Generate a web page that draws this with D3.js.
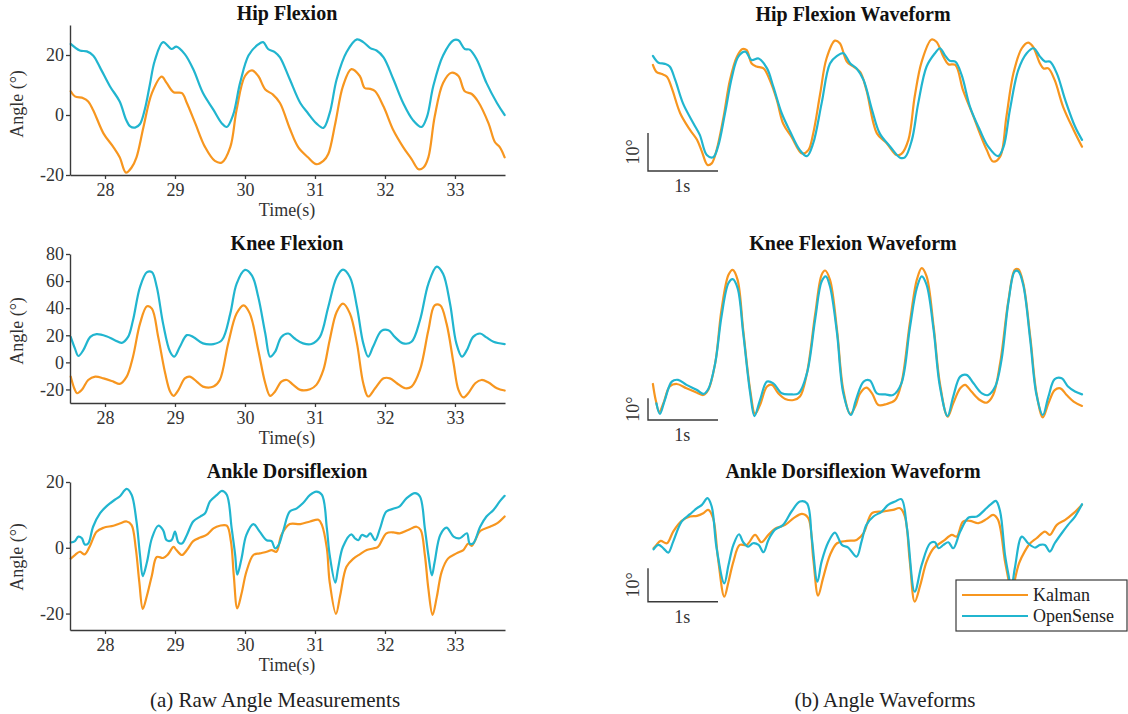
<!DOCTYPE html>
<html>
<head>
<meta charset="utf-8">
<script src="https://cdn.jsdelivr.net/npm/d3@7"></script>
<style>
  body { margin: 0; background: #fff; }
  text { font-family: "Liberation Serif", "Times New Roman", serif; }
</style>
</head>
<body>
<svg id="fig" width="1128" height="714"></svg>
<script>
// ---------- data: raw joint angles [time (s), angle (deg)] ----------
const timeTicks = [28, 29, 30, 31, 32, 33];
const hipTicks = [-20, 0, 20];
const kneeTicks = [-20, 0, 20, 40, 60, 80];
const ankleTicks = [-20, 0, 20];

const hipKalman = [[27.51,7.9],[27.57,6.2],[27.69,5.6],[27.76,4.5],[27.83,1.7],[27.98,-6.2],[28.12,-10.7],[28.21,-14.1],[28.30,-19.2],[28.38,-17.5],[28.45,-14.1],[28.55,-4],[28.67,7.3],[28.81,12.8],[28.88,10.7],[28.98,7.6],[29.10,7.3],[29.17,4],[29.29,-2.8],[29.43,-10.7],[29.57,-15.3],[29.67,-15.8],[29.79,-10.7],[29.88,1.7],[30.00,13],[30.10,14.9],[30.19,13],[30.29,8.5],[30.40,6.8],[30.50,4],[30.64,-4.5],[30.76,-10.7],[30.90,-14.1],[31.02,-16.4],[31.12,-15.3],[31.19,-13],[31.29,-2.8],[31.40,9.6],[31.52,15.3],[31.64,13],[31.71,9],[31.79,8.7],[31.86,7.9],[31.98,2.8],[32.12,-5.1],[32.26,-10.7],[32.38,-14.7],[32.48,-18.1],[32.55,-17.5],[32.62,-14.1],[32.71,-0.6],[32.83,10.7],[32.95,14.1],[33.05,13],[33.14,7.9],[33.24,7],[33.33,4.5],[33.48,-2.8],[33.57,-9],[33.64,-10.7],[33.71,-14.1]];
const hipOpenSense = [[27.51,23.7],[27.64,21.5],[27.74,21.2],[27.83,19.8],[27.93,15.8],[28.07,9.6],[28.21,4.5],[28.30,-1.5],[28.36,-3.8],[28.43,-4.2],[28.50,-3],[28.57,2],[28.64,10],[28.71,18],[28.83,24.3],[28.95,22],[29.02,22.8],[29.14,20.3],[29.26,15.3],[29.40,7.3],[29.55,1.7],[29.67,-2.8],[29.74,-4],[29.83,0],[29.93,10.7],[30.05,19.8],[30.17,23.2],[30.26,24.3],[30.33,22],[30.43,20.9],[30.50,19.2],[30.64,11.9],[30.79,4],[30.90,0.6],[31.02,-2.8],[31.12,-4.3],[31.21,0.6],[31.31,11.9],[31.45,20.9],[31.60,25.2],[31.69,24.3],[31.79,22.3],[31.88,21.5],[31.98,19.2],[32.12,11.9],[32.26,4],[32.40,-1.7],[32.52,-4],[32.60,-0.6],[32.69,9.6],[32.83,19.8],[32.98,24.9],[33.05,24.9],[33.14,22],[33.21,21.8],[33.31,18.6],[33.45,10.7],[33.60,4],[33.71,0]];

const kneeKalman = [[27.51,-10.5],[27.56,-19.1],[27.60,-22.8],[27.67,-20.3],[27.76,-13],[27.86,-10.5],[27.98,-11.8],[28.12,-14.2],[28.21,-15.9],[28.31,-10.5],[28.40,4.2],[28.50,28.6],[28.60,41.4],[28.67,39.7],[28.76,18.8],[28.86,-8.1],[28.93,-21.5],[28.98,-24.7],[29.05,-20.3],[29.14,-11.8],[29.21,-10.5],[29.31,-14.2],[29.40,-17.9],[29.55,-17.9],[29.64,-13],[29.76,14],[29.88,36],[29.98,42.1],[30.07,36],[30.19,9],[30.29,-15.4],[30.36,-24.7],[30.43,-21.5],[30.52,-14.2],[30.60,-13],[30.69,-16.6],[30.79,-20.3],[30.93,-19.8],[31.02,-16.6],[31.12,-5.6],[31.21,16.4],[31.31,37.2],[31.40,43.3],[31.50,36],[31.60,14],[31.69,-15.4],[31.76,-25.2],[31.86,-19.1],[31.98,-11.8],[32.07,-11.8],[32.17,-15.4],[32.29,-19.1],[32.38,-17.9],[32.50,-5.6],[32.62,23.7],[32.71,42.1],[32.79,42.1],[32.88,28.6],[32.98,-0.7],[33.05,-20.3],[33.12,-25.9],[33.19,-22.8],[33.29,-15.4],[33.38,-13],[33.48,-14.9],[33.60,-19.1],[33.71,-20.8]];
const kneeOpenSense = [[27.51,18.8],[27.57,10.3],[27.62,4.7],[27.69,9],[27.79,18.8],[27.88,20.8],[28.02,19.3],[28.14,16.4],[28.24,14.4],[28.33,18.8],[28.40,31.1],[28.50,55.6],[28.60,66.6],[28.67,66.6],[28.74,55.6],[28.83,28.6],[28.93,7.8],[28.99,4.2],[29.07,11.5],[29.17,20.1],[29.26,18.8],[29.40,14],[29.55,13.5],[29.67,16.4],[29.79,36],[29.88,58],[30.00,68.3],[30.10,64.1],[30.19,48.2],[30.29,21.3],[30.36,4.2],[30.43,7.8],[30.52,18.8],[30.62,21.3],[30.71,17.6],[30.83,14],[30.95,13.5],[31.07,18.8],[31.19,40.9],[31.31,62.9],[31.40,68.5],[31.50,62.9],[31.60,40.9],[31.69,14],[31.76,4.2],[31.83,11.5],[31.95,23.3],[32.05,23.7],[32.14,18.8],[32.26,14],[32.38,15.2],[32.50,31.1],[32.62,58],[32.74,70.7],[32.83,65.4],[32.93,43.3],[33.02,14],[33.10,4.2],[33.17,9],[33.26,18.8],[33.36,21.3],[33.45,18.4],[33.55,15.2],[33.71,13.5]];

const ankleKalman = [[27.51,-3.3],[27.57,-2.2],[27.64,-1.2],[27.71,-2],[27.79,0.8],[27.88,4.9],[27.98,6.1],[28.12,6.7],[28.21,7.4],[28.31,8],[28.38,6.9],[28.44,-0.2],[28.49,-10.4],[28.54,-18.6],[28.60,-14.5],[28.67,-8.4],[28.74,-2.8],[28.83,-3.1],[28.90,-2],[28.98,0.3],[29.02,-0.7],[29.10,-2.2],[29.17,-0.7],[29.26,2],[29.36,3.1],[29.45,3.9],[29.55,5.9],[29.64,6.7],[29.74,6.7],[29.80,1.8],[29.84,-8.4],[29.89,-18.4],[29.95,-14],[30.02,-7.3],[30.12,-2.2],[30.21,-1.7],[30.31,-1.2],[30.38,-0.7],[30.45,-1.2],[30.52,3.9],[30.64,7.2],[30.79,7.2],[30.93,8],[31.05,8.5],[31.10,6.9],[31.17,-0.2],[31.21,-10.4],[31.30,-20.1],[31.36,-14.5],[31.45,-5.8],[31.55,-3.3],[31.64,-2],[31.74,-0.7],[31.83,-0.2],[31.90,0.3],[32.02,4.4],[32.12,4.7],[32.21,4.4],[32.33,5.4],[32.45,6.4],[32.51,5.4],[32.57,-2.2],[32.62,-12.4],[32.68,-20.4],[32.74,-15],[32.81,-7.3],[32.90,-3.3],[33.02,-1.7],[33.12,-0.7],[33.19,1.3],[33.24,0.6],[33.29,2.3],[33.36,5.1],[33.50,6.4],[33.60,7.4],[33.71,9.5]];
const ankleOpenSense = [[27.51,1.6],[27.57,2],[27.62,3.4],[27.67,2.9],[27.71,1],[27.76,1.3],[27.83,6.4],[27.93,10.5],[28.02,12.6],[28.14,14.6],[28.21,15.6],[28.31,17.9],[28.38,16.1],[28.45,8],[28.50,-2.2],[28.54,-8.6],[28.60,-4.3],[28.67,2.9],[28.76,6.7],[28.83,5.4],[28.88,2.3],[28.95,2.3],[29.00,4.9],[29.05,1.6],[29.10,1.3],[29.17,3.9],[29.26,8],[29.36,9.5],[29.43,10.5],[29.50,14.1],[29.60,16.1],[29.67,17.3],[29.74,16.1],[29.81,5.9],[29.86,-2.2],[29.89,-8.2],[29.95,-3.3],[30.02,3.9],[30.12,7.2],[30.21,4.9],[30.31,2.3],[30.38,2],[30.43,-0.2],[30.48,0.8],[30.55,5.4],[30.64,11],[30.74,12],[30.83,13.6],[30.93,16.1],[31.02,17.1],[31.10,16.1],[31.17,5.9],[31.21,-2.2],[31.29,-10.6],[31.33,-6.3],[31.40,0.3],[31.52,4.1],[31.57,2.9],[31.62,2.3],[31.67,3.9],[31.74,3.4],[31.79,4.4],[31.86,2.3],[31.93,5.9],[32.02,11],[32.14,12],[32.21,12.6],[32.31,15.1],[32.43,16.6],[32.50,15.6],[32.57,5.9],[32.62,-2.2],[32.67,-8.4],[32.71,-4.3],[32.79,3.9],[32.88,6.1],[32.98,3.4],[33.07,2.9],[33.17,4.4],[33.21,1.3],[33.26,1.3],[33.36,6.4],[33.45,9.5],[33.55,11.5],[33.64,14.1],[33.71,15.8]];

// ---------- data: aligned waveforms [time (s), relative angle (deg)] ----------
const hipWaveKalman = [[0.07,27.9],[0.12,26.1],[0.20,25.5],[0.27,24.8],[0.34,21.8],[0.46,15.2],[0.60,10.8],[0.70,8.2],[0.77,5.1],[0.85,1.6],[0.91,2],[0.98,5.5],[1.08,14.3],[1.17,23.9],[1.27,30.1],[1.35,32.1],[1.41,31.8],[1.48,28.3],[1.55,27.5],[1.65,27],[1.74,23.9],[1.84,18.7],[1.93,12.5],[2.05,9],[2.20,4.6],[2.29,5.5],[2.36,9.9],[2.46,20.4],[2.55,29.6],[2.67,34.3],[2.74,33.6],[2.84,28.8],[2.93,27.5],[3.03,26.1],[3.12,21.3],[3.27,9.9],[3.41,7.3],[3.55,4.2],[3.62,4.5],[3.72,8.2],[3.81,19.6],[3.91,28.8],[4.05,34.6],[4.12,34],[4.22,30.1],[4.29,28.1],[4.39,27.9],[4.50,21.3],[4.65,14.3],[4.74,9.9],[4.84,5.5],[4.93,2.5],[5.03,3.8],[5.12,14.3],[5.22,25.7],[5.34,32.3],[5.43,33.8],[5.50,32.7],[5.60,28.3],[5.65,27],[5.72,27],[5.81,23.9],[5.93,16.9],[6.08,10.8],[6.20,6.4]];
const hipWaveOpenSense = [[0.07,30.3],[0.15,28.5],[0.24,28.2],[0.31,27.5],[0.39,23.9],[0.50,17.8],[0.65,12.5],[0.74,9.5],[0.84,4.2],[0.93,3.6],[1.00,6.4],[1.10,15.2],[1.20,24.8],[1.29,30.1],[1.39,31.4],[1.48,29.2],[1.58,29.6],[1.70,27],[1.79,22.2],[1.91,15.2],[2.03,10.4],[2.17,5.5],[2.27,3.9],[2.36,7.3],[2.48,17.8],[2.60,28.3],[2.70,30.3],[2.79,31],[2.89,28.3],[2.98,27],[3.08,23.9],[3.20,16.1],[3.31,9.9],[3.46,6.4],[3.60,3.5],[3.67,3.6],[3.77,8.2],[3.86,17.8],[3.98,27.5],[4.10,31],[4.17,32.3],[4.24,30.5],[4.31,29],[4.39,28.8],[4.48,25.3],[4.60,16.9],[4.74,10.8],[4.86,6.4],[5.00,3.9],[5.08,6.4],[5.17,16.1],[5.29,26.6],[5.41,31],[5.51,32.3],[5.60,30.1],[5.67,28.8],[5.74,28.8],[5.84,25.7],[5.96,18.7],[6.10,11.7],[6.20,8.2]];

const kneeWaveKalman = [[0.07,16.6],[0.11,9.2],[0.16,3.8],[0.22,7.7],[0.31,15.4],[0.41,16.6],[0.55,14.6],[0.70,12.6],[0.79,11.5],[0.86,13.8],[0.96,26.2],[1.05,50.8],[1.15,66.9],[1.21,69.2],[1.28,64.6],[1.36,41.5],[1.46,13.8],[1.53,2.8],[1.60,6.9],[1.70,15.4],[1.77,16.2],[1.86,12.3],[1.96,9.7],[2.08,9.2],[2.17,10.8],[2.27,21.5],[2.39,49.2],[2.48,66.9],[2.53,68.9],[2.60,64.6],[2.70,41.5],[2.79,13.8],[2.89,2.8],[2.96,6.2],[3.03,12.3],[3.12,14.9],[3.20,12.3],[3.29,6.9],[3.41,7.4],[3.53,9.2],[3.62,16.9],[3.74,44.6],[3.84,64.6],[3.91,70],[3.98,66.2],[4.08,43.1],[4.17,16.9],[4.28,1.5],[4.36,7.7],[4.46,14.6],[4.53,16.2],[4.62,13.1],[4.74,9.2],[4.84,8],[4.93,11.5],[5.03,26.2],[5.15,55.4],[5.24,69.2],[5.29,69.5],[5.36,63.1],[5.46,38.5],[5.55,12.3],[5.64,1.2],[5.72,7.7],[5.81,13.8],[5.89,14.6],[5.98,11.5],[6.08,8.5],[6.20,6.5]];
const kneeWaveOpenSense = [[0.12,7.7],[0.17,2.8],[0.24,9.2],[0.34,17.7],[0.43,18.5],[0.55,16.2],[0.70,13.8],[0.79,12],[0.86,14.2],[0.96,26.2],[1.05,47.7],[1.15,63.1],[1.21,64.9],[1.28,60.8],[1.36,40],[1.46,12.3],[1.52,1.8],[1.60,9.2],[1.70,17.7],[1.79,16.9],[1.91,12.3],[2.03,11.8],[2.15,12.3],[2.27,21.5],[2.39,46.9],[2.48,63.8],[2.54,66.2],[2.60,61.5],[2.70,40],[2.79,12.3],[2.90,2.3],[2.97,9.2],[3.08,17.7],[3.17,18.2],[3.27,12.3],[3.39,11.8],[3.50,11.5],[3.62,16.9],[3.74,42.3],[3.84,60.8],[3.91,66.2],[3.98,62.3],[4.08,41.5],[4.17,15.4],[4.28,1.8],[4.36,10.8],[4.46,20],[4.55,20.8],[4.65,16.9],[4.77,12.3],[4.86,11.5],[4.96,15.4],[5.05,27.7],[5.15,54.6],[5.24,68.5],[5.29,68.5],[5.36,62.3],[5.46,36.9],[5.55,11.5],[5.64,2.3],[5.72,10.8],[5.81,18.8],[5.91,19.2],[6.00,15.4],[6.10,13.1],[6.20,11.8]];

const ankleWaveKalman = [[0.08,16],[0.12,17],[0.18,18.2],[0.27,17.5],[0.36,21],[0.48,24.2],[0.60,25.5],[0.70,25.7],[0.79,26.5],[0.86,27.5],[0.93,25],[1.00,13],[1.09,1.5],[1.15,6],[1.22,12],[1.31,17],[1.41,17],[1.53,20],[1.62,17.8],[1.72,20],[1.81,21.8],[1.96,23],[2.08,25],[2.20,26.3],[2.29,25],[2.36,13],[2.43,1.8],[2.50,7],[2.60,14],[2.70,17.5],[2.84,18.2],[2.98,18.5],[3.08,20.5],[3.20,26.5],[3.36,27],[3.50,27.5],[3.60,28],[3.67,25.5],[3.74,12],[3.81,0],[3.89,5],[3.98,12],[4.08,16],[4.22,18.2],[4.34,20],[4.41,19.5],[4.50,24],[4.60,24.2],[4.72,23.5],[4.84,24.8],[4.93,26],[5.00,24.5],[5.10,12],[5.15,6.5],[5.19,1],[5.24,6.5],[5.30,11.5],[5.38,15],[5.46,17.5],[5.55,19],[5.67,21],[5.74,20],[5.84,23],[5.96,24.5],[6.08,26.5],[6.20,29]];
const ankleWaveOpenSense = [[0.08,15.7],[0.15,17],[0.22,16],[0.29,14.7],[0.36,18],[0.48,24],[0.60,26.2],[0.70,28],[0.77,29],[0.85,31],[0.91,28.5],[0.98,16],[1.09,5.5],[1.15,11],[1.22,17],[1.30,20.2],[1.36,17.8],[1.43,16.5],[1.50,17.5],[1.58,17],[1.65,14.8],[1.72,18.5],[1.81,21.5],[1.93,23],[2.05,27],[2.17,30],[2.27,29.5],[2.34,19],[2.42,6],[2.48,12],[2.58,18],[2.67,20.7],[2.77,17],[2.86,16.2],[2.98,13.5],[3.05,18],[3.12,23],[3.22,25.5],[3.34,27],[3.43,29],[3.53,30],[3.62,30.7],[3.70,22],[3.81,3],[3.91,11],[4.03,17.5],[4.10,17.8],[4.15,16],[4.22,17],[4.29,17.8],[4.36,16],[4.46,21],[4.58,25.2],[4.70,25.5],[4.81,27.5],[4.90,29.2],[4.97,30.2],[5.03,27],[5.10,14],[5.15,8],[5.19,4],[5.24,10],[5.34,19.5],[5.43,17.5],[5.53,16.2],[5.60,17],[5.67,17],[5.74,15],[5.81,17.5],[5.91,20.5],[6.00,23],[6.10,25.5],[6.20,29.2]];

const seriesNames = ["Kalman", "OpenSense"];
const seriesColor = { Kalman: "#f7961f", OpenSense: "#21b5cf" };

// ---------- layout ----------
const svg = d3.select("#fig");
const AXIS = "#3a3a3a";
const LW = 2.2;
const FONT = "'Liberation Serif', 'Times New Roman', serif";

const rawPanels = [
  { title: "Hip Flexion", kal: hipKalman, os: hipOpenSense, ticks: hipTicks, domain: [-20, 30], top: 25, bottom: 175, titleY: 20, labelY: 104 },
  { title: "Knee Flexion", kal: kneeKalman, os: kneeOpenSense, ticks: kneeTicks, domain: [-30, 80], top: 254, bottom: 403, titleY: 250, labelY: 331 },
  { title: "Ankle Dorsiflexion", kal: ankleKalman, os: ankleOpenSense, ticks: ankleTicks, domain: [-25, 20], top: 482, bottom: 630, titleY: 478, labelY: 557 }
];

const wavePanels = [
  { title: "Hip Flexion Waveform", kal: hipWaveKalman, os: hipWaveOpenSense, base: 171, pxPerDeg: 3.8, titleY: 21 },
  { title: "Knee Flexion Waveform", kal: kneeWaveKalman, os: kneeWaveOpenSense, base: 420, pxPerDeg: 2.17, titleY: 250 },
  { title: "Ankle Dorsiflexion Waveform", kal: ankleWaveKalman, os: ankleWaveOpenSense, base: 601.7, pxPerDeg: 3.34, titleY: 478 }
];

const rawX = d3.scaleLinear().domain([27.5, 33.715]).range([70, 505]);
const waveX = d3.scaleLinear().domain([0, 6.214]).range([648, 1083]);

function drawLine(g, data, x, y, color) {
  g.append("path")
    .datum(data)
    .attr("fill", "none")
    .attr("stroke", color)
    .attr("stroke-width", LW)
    .attr("stroke-linejoin", "round")
    .attr("stroke-linecap", "round")
    .attr("d", d3.line().x(d => x(d[0])).y(d => y(d[1])).curve(d3.curveCatmullRom.alpha(0.5)));
}

// ---------- (a) raw angle measurements ----------
rawPanels.forEach(p => {
  const y = d3.scaleLinear().domain(p.domain).range([p.bottom, p.top]);
  const g = svg.append("g");

  drawLine(g, p.kal, rawX, y, seriesColor.Kalman);
  drawLine(g, p.os, rawX, y, seriesColor.OpenSense);

  const xAxis = g.append("g")
    .attr("transform", `translate(0,${p.bottom})`)
    .call(d3.axisBottom(rawX).tickValues(timeTicks).tickSize(4).tickSizeOuter(0).tickPadding(4).tickFormat(d3.format("d")));
  const yAxis = g.append("g")
    .attr("transform", `translate(${rawX.range()[0]},0)`)
    .call(d3.axisLeft(y).tickValues(p.ticks).tickSize(4).tickSizeOuter(0).tickPadding(2).tickFormat(d => d < 0 ? "-" + Math.abs(d) : d));

  [xAxis, yAxis].forEach(a => {
    a.select(".domain").attr("stroke", AXIS).attr("stroke-width", 1.4);
    a.selectAll(".tick line").attr("stroke", AXIS).attr("stroke-width", 1.3);
    a.selectAll(".tick text").attr("fill", "#333").style("font-size", "18px").style("font-family", FONT);
  });

  g.append("text")
    .attr("x", 287).attr("y", p.titleY)
    .attr("text-anchor", "middle")
    .style("font-size", "20px").style("font-weight", "bold").attr("fill", "#111")
    .text(p.title);

  g.append("text")
    .attr("x", 287).attr("y", p.bottom + 41)
    .attr("text-anchor", "middle")
    .style("font-size", "18px").attr("fill", "#333")
    .text("Time(s)");

  g.append("text")
    .attr("transform", `translate(23,${p.labelY}) rotate(-90)`)
    .attr("text-anchor", "middle")
    .style("font-size", "18px").attr("fill", "#333")
    .text("Angle (°)");
});

// ---------- (b) angle waveforms ----------
wavePanels.forEach(p => {
  const y = d3.scaleLinear().domain([0, 10]).range([p.base, p.base - 10 * p.pxPerDeg]);
  const g = svg.append("g");

  drawLine(g, p.kal, waveX, y, seriesColor.Kalman);
  drawLine(g, p.os, waveX, y, seriesColor.OpenSense);

  // scale bar: 10 degrees by 1 second
  g.append("path")
    .attr("fill", "none").attr("stroke", AXIS).attr("stroke-width", 1.4)
    .attr("d", `M${waveX(0)},${y(10)}V${y(0)}H${waveX(1)}`);

  g.append("text")
    .attr("transform", `translate(${waveX(0) - 9},${y(5)}) rotate(-90)`)
    .attr("text-anchor", "middle")
    .style("font-size", "18px").attr("fill", "#333")
    .text("10°");

  g.append("text")
    .attr("x", waveX(0.49)).attr("y", y(0) + 21)
    .attr("text-anchor", "middle")
    .style("font-size", "18px").attr("fill", "#333")
    .text("1s");

  g.append("text")
    .attr("x", 853).attr("y", p.titleY)
    .attr("text-anchor", "middle")
    .style("font-size", "20px").style("font-weight", "bold").attr("fill", "#111")
    .text(p.title);
});

// ---------- legend ----------
const legend = svg.append("g").attr("transform", "translate(956,580)");
legend.append("rect")
  .attr("width", 171).attr("height", 51)
  .attr("fill", "#fff").attr("stroke", AXIS).attr("stroke-width", 1.2);
seriesNames.forEach((name, i) => {
  const ly = 15 + i * 21;
  legend.append("line")
    .attr("x1", 6).attr("x2", 72).attr("y1", ly).attr("y2", ly)
    .attr("stroke", seriesColor[name]).attr("stroke-width", 1.8);
  legend.append("text")
    .attr("x", 77).attr("y", ly + 6)
    .style("font-size", "18px").attr("fill", "#222")
    .text(name);
});

// ---------- captions ----------
svg.append("text").attr("x", 275).attr("y", 707).attr("text-anchor", "middle")
  .style("font-size", "21px").attr("fill", "#222").text("(a) Raw Angle Measurements");
svg.append("text").attr("x", 885).attr("y", 707).attr("text-anchor", "middle")
  .style("font-size", "21px").attr("fill", "#222").text("(b) Angle Waveforms");
</script>
</body>
</html>
